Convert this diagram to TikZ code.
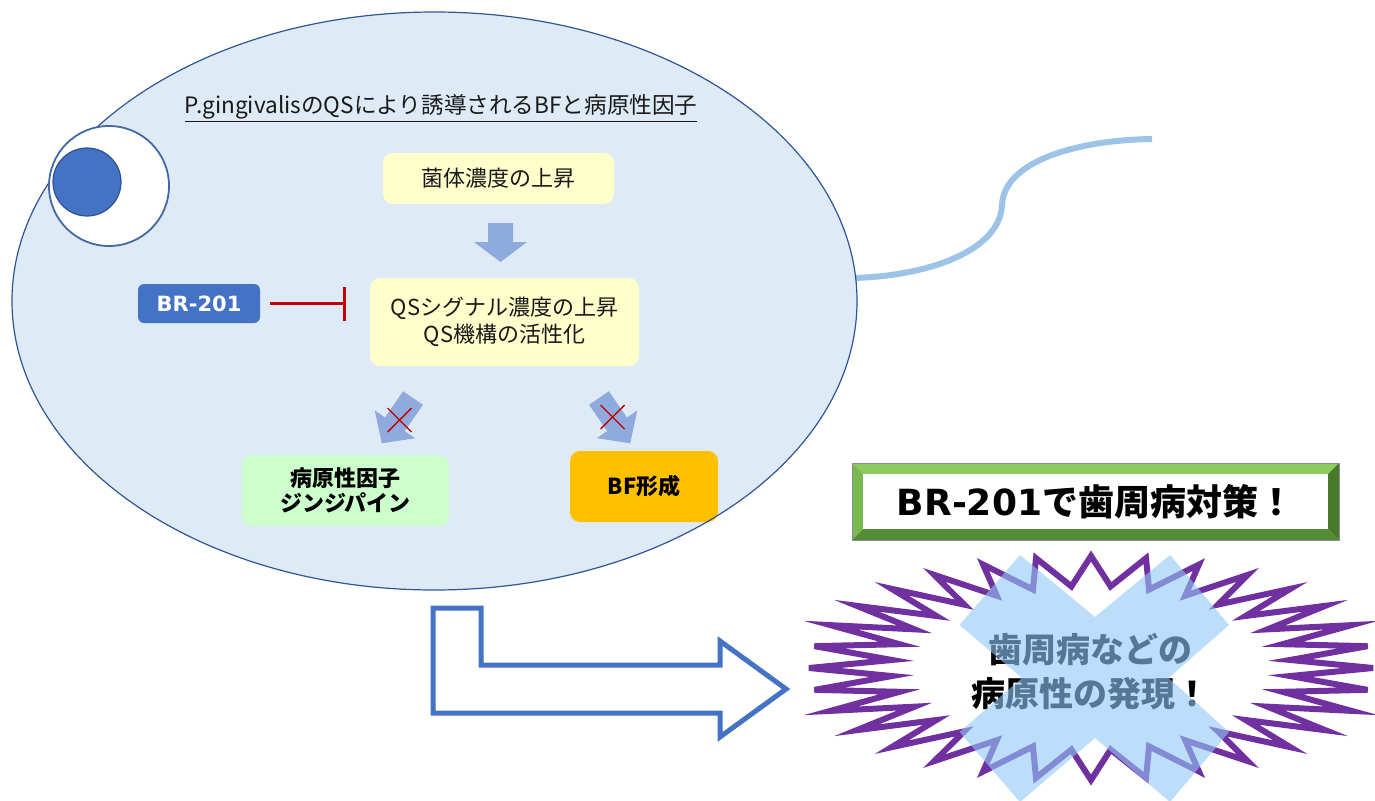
\documentclass[tikz,border=0pt]{standalone}
\usepackage{fontspec}
\setmainfont{Noto Sans CJK JP}
\newfontfamily\dejavu{DejaVu Sans}
\usetikzlibrary{arrows.meta}

\definecolor{cellfill}{RGB}{222,235,247}
\definecolor{celledge}{RGB}{47,85,151}
\definecolor{flagblue}{RGB}{157,195,230}
\definecolor{paleyellow}{RGB}{255,255,204}
\definecolor{arrowblue}{RGB}{143,170,220}
\definecolor{accentblue}{RGB}{68,114,196}
\definecolor{darkred}{RGB}{192,0,0}
\definecolor{palegreen}{RGB}{204,255,204}
\definecolor{amber}{RGB}{255,192,0}
\definecolor{burstpurple}{RGB}{112,48,160}
\definecolor{crossblue}{RGB}{145,200,247}
\definecolor{bevtop}{RGB}{140,203,94}
\definecolor{bevleft}{RGB}{121,184,78}
\definecolor{bevbottom}{RGB}{84,140,52}
\definecolor{bevright}{RGB}{72,122,44}
\definecolor{nucleusedge}{RGB}{47,82,143}
\definecolor{capsule}{RGB}{68,104,163}
\definecolor{inktext}{RGB}{25,25,25}

\begin{document}
\begin{tikzpicture}[x=1pt,y=-1pt,
  pbox/.style={rounded corners=10pt, align=center, inner sep=0pt, text=inktext,
    font=\fontsize{22}{27}\selectfont},
  boldbox/.style={rounded corners=10pt, align=center, inner sep=0pt, text=black,
    font=\bfseries\fontsize{22}{25}\selectfont},
  blockarrow/.style={fill=arrowblue, draw=none},
  nocross/.style={draw=darkred, line width=1.4pt},
]
\useasboundingbox (0,0) rectangle (1375,800);

% flagellum
\draw[flagblue, line width=6pt] (853,278) .. controls (930,276) and (1000,250) .. (1002,205)
  .. controls (1004,160) and (1080,140) .. (1152,139);

% cell body
\fill[cellfill] (434.5,301) ellipse[x radius=422.5pt, y radius=289pt];

% heading
\node[inner sep=0pt, text=inktext, font=\fontsize{22.6}{26}\selectfont] (title) at (441,108)
  {\underline{P.gingivalisのQSにより誘導されるBFと病原性因子}};

% flow boxes
\node[pbox, fill=paleyellow, minimum width=231pt, minimum height=51pt] (density) at (498.5,178.5) {菌体濃度の上昇};
\node[pbox, fill=paleyellow, minimum width=269pt, minimum height=88pt] (qs) at (504.5,322)
  {QSシグナル濃度の上昇\\QS機構の活性化};
\node[rounded corners=6pt, fill=accentblue, minimum width=122pt, minimum height=39pt, inner sep=0pt,
  text=white, font=\dejavu\bfseries\fontsize{21}{25}\selectfont] (br) at (199,303.5) {BR-201};
\node[boldbox, fill=palegreen, minimum width=207pt, minimum height=71pt] (gingipain) at (345.5,490.5)
  {病原性因子\\ジンジパイン};
\node[boldbox, fill=amber, minimum width=148pt, minimum height=71pt] (bf) at (644,486.5) {BF形成};

% inhibition
\draw[darkred, line width=3pt, -{Bar[width=34pt,line width=3pt]}, shorten <=10pt, shorten >=24pt]
  (br.east) -- (br.east -| qs.west);

% block arrows
\fill[blockarrow] (488,223) -- (513,223) -- (513,242) -- (527,242) -- (500.5,262) -- (474,242) -- (488,242) -- cycle;
\fill[blockarrow] (422.9,404.8) -- (404.8,431.1) -- (415.1,438.2) -- (381.8,443.3) -- (374.7,410.4) -- (385.0,417.5) -- (403.1,391.2) -- cycle;
\fill[blockarrow] (589.1,404.8) -- (607.2,431.1) -- (596.9,438.2) -- (630.2,443.3) -- (637.3,410.4) -- (627.0,417.5) -- (608.9,391.2) -- cycle;
\draw[nocross] (387.5,408) -- (411.5,432) (411.5,408) -- (387.5,432);
\draw[nocross] (600.5,405) -- (624.5,429) (624.5,405) -- (600.5,429);

% cell outline and spore
\draw[celledge, line width=1.2pt] (434.5,301) ellipse[x radius=422.5pt, y radius=289pt];
\draw[capsule, line width=1.8pt, fill=white] (109,186) circle[radius=60pt];
\draw[nucleusedge, line width=1.2pt, fill=accentblue] (87,182) circle[radius=34pt];

% bent outline arrow
\draw[accentblue, line width=5pt, line join=miter] (433,608) -- (481,608) -- (481,665) -- (720,665)
  -- (720,641) -- (786,689) -- (720,737) -- (720,713) -- (433,713) -- cycle;

% slogan plate
\fill[bevtop] (852,463) -- (1339,463) -- (1328,474) -- (863,474) -- cycle;
\fill[bevleft] (852,463) -- (863,474) -- (863,529) -- (852,540) -- cycle;
\fill[bevbottom] (852,540) -- (863,529) -- (1328,529) -- (1339,540) -- cycle;
\fill[bevright] (1339,463) -- (1339,540) -- (1328,529) -- (1328,474) -- cycle;
\draw[black!45, line width=0.6pt] (852,463) rectangle (1339,540);
\node[fill=white, minimum width=465pt, minimum height=55pt, inner sep=0pt,
  font=\fontsize{36}{40}\selectfont] (slogan) at (1095.5,501.5)
  {{\dejavu\bfseries BR-201}{\bfseries で歯周病対策！}};

% burst
\draw[burstpurple, line width=6pt, fill=white, line join=miter]
  (1373,668) \foreach \k in {1,...,31} {
    -- ({1091+200*cos((\k-0.5)*11.25)},{668-82*sin((\k-0.5)*11.25)})
    -- ({1091+282*cos(\k*11.25)},{668-112*sin(\k*11.25)}) }
  -- ({1091+200*cos(354.375)},{668-82*sin(354.375)}) -- cycle;
\node[align=center, inner sep=0pt, font=\bfseries\fontsize{34}{44}\selectfont] (burstText) at (1090,672)
  {歯周病などの\\病原性の発現！};

% cancel mark
\fill[crossblue, fill opacity=0.6] (959.5,625) -- (1020,555) -- (1095,617) -- (1170,555) -- (1229,625)
  -- (1168.5,678) -- (1229,732) -- (1170,802) -- (1095,738) -- (1020,802) -- (959.5,732) -- (1022,678) -- cycle;
\end{tikzpicture}
\end{document}
